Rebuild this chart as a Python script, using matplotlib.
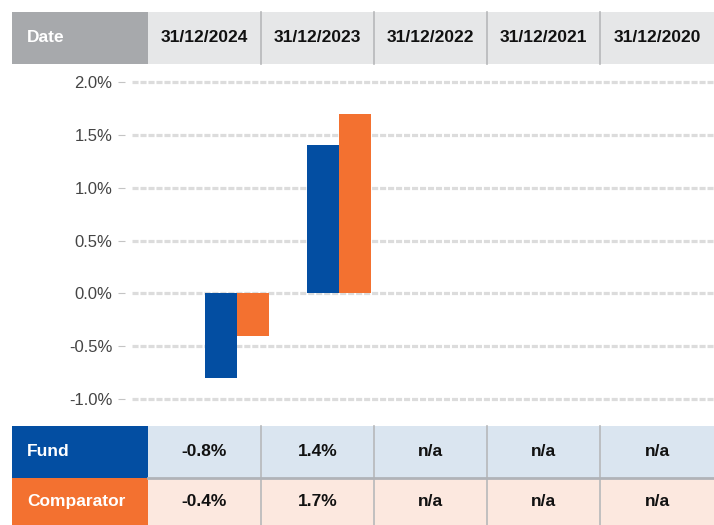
import matplotlib.pyplot as plt
from matplotlib.patches import Rectangle
import numpy as np

# data
dates = ['31/12/2024', '31/12/2023', '31/12/2022', '31/12/2021', '31/12/2020']
fund = [-0.8, 1.4, np.nan, np.nan, np.nan]
comparator = [-0.4, 1.7, np.nan, np.nan, np.nan]
fund_labels = ['-0.8%', '1.4%', 'n/a', 'n/a', 'n/a']
comp_labels = ['-0.4%', '1.7%', 'n/a', 'n/a', 'n/a']
yticks = [2.0, 1.5, 1.0, 0.5, 0.0, -0.5, -1.0]

blue = '#034ea2'
orange = '#f37130'

W, H = 714, 525
fig = plt.figure(figsize=(W / 100, H / 100), dpi=100)

# overlay in pixel coords for the table parts
tab = fig.add_axes([0, 0, 1, 1])
tab.set_xlim(0, W)
tab.set_ylim(H, 0)
tab.axis('off')

col_edges = [12, 148, 261, 374, 487, 600, 714]

def draw_row(y0, y1, label, label_bg, label_fg, cell_bg, texts, text_color):
    tab.add_patch(Rectangle((col_edges[0], y0), col_edges[1] - col_edges[0], y1 - y0,
                            facecolor=label_bg, edgecolor='none'))
    tab.add_patch(Rectangle((col_edges[1], y0), col_edges[-1] - col_edges[1], y1 - y0,
                            facecolor=cell_bg, edgecolor='none'))
    tab.text(27, (y0 + y1) / 2, label, color=label_fg, fontsize=12.5, fontweight='bold',
             ha='left', va='center', family='Liberation Sans')
    for i, t in enumerate(texts):
        cx = (col_edges[i + 1] + col_edges[i + 2]) / 2
        tab.text(cx, (y0 + y1) / 2, t, color=text_color, fontsize=12.5, fontweight='bold',
                 ha='center', va='center', family='Liberation Sans')
    for x in col_edges[2:-1]:
        tab.plot([x, x], [y0, y1], color='#b7b8ba', lw=1.2)

# header
draw_row(12, 64, 'Date', '#a7a9ac', 'white', '#e6e7e8', dates, '#111111')
# bottom table
draw_row(426, 478, 'Fund', blue, 'white', '#dae5f0', fund_labels, '#111111')
draw_row(478, 525, 'Comparator', orange, 'white', '#fce8df', comp_labels, '#111111')
tab.plot([col_edges[1], col_edges[-1]], [478, 478], color='#b0b3b8', lw=2)

# chart
ax_l, ax_r = 125, 714
ax_t, ax_b = 70, 410
ax = fig.add_axes([ax_l / W, (H - ax_b) / H, (ax_r - ax_l) / W, (ax_b - ax_t) / H])
ax.patch.set_alpha(0)
ppu = (399 - 82) / 3.0
ax.set_ylim(-1.0 - (ax_b - 399) / ppu, 2.0 + (82 - ax_t) / ppu)
step = 102.0
ax.set_xlim((ax_l - 237) / step, (ax_r - 237) / step)

x = np.arange(len(dates))
bw = 32 / step
for y in yticks:
    ax.axhline(y, xmin=7 / (ax_r - ax_l), xmax=1, color='#dcdcdc', lw=2.3,
               dashes=(1.9, 0.6), zorder=0)
ax.bar(x - bw / 2, fund, width=bw, color=blue, zorder=2)
ax.bar(x + bw / 2, comparator, width=bw, color=orange, zorder=2)

for s in ax.spines.values():
    s.set_visible(False)
ax.set_xticks([])
ax.set_yticks(yticks)
ax.set_yticklabels([f'{v:.1f}%' for v in yticks], fontsize=12, color='#444444',
                   family='Liberation Sans')
ax.tick_params(axis='y', length=5, width=0.8, color='#c4c4c4', pad=4)

fig.savefig('out.png', dpi=100)
